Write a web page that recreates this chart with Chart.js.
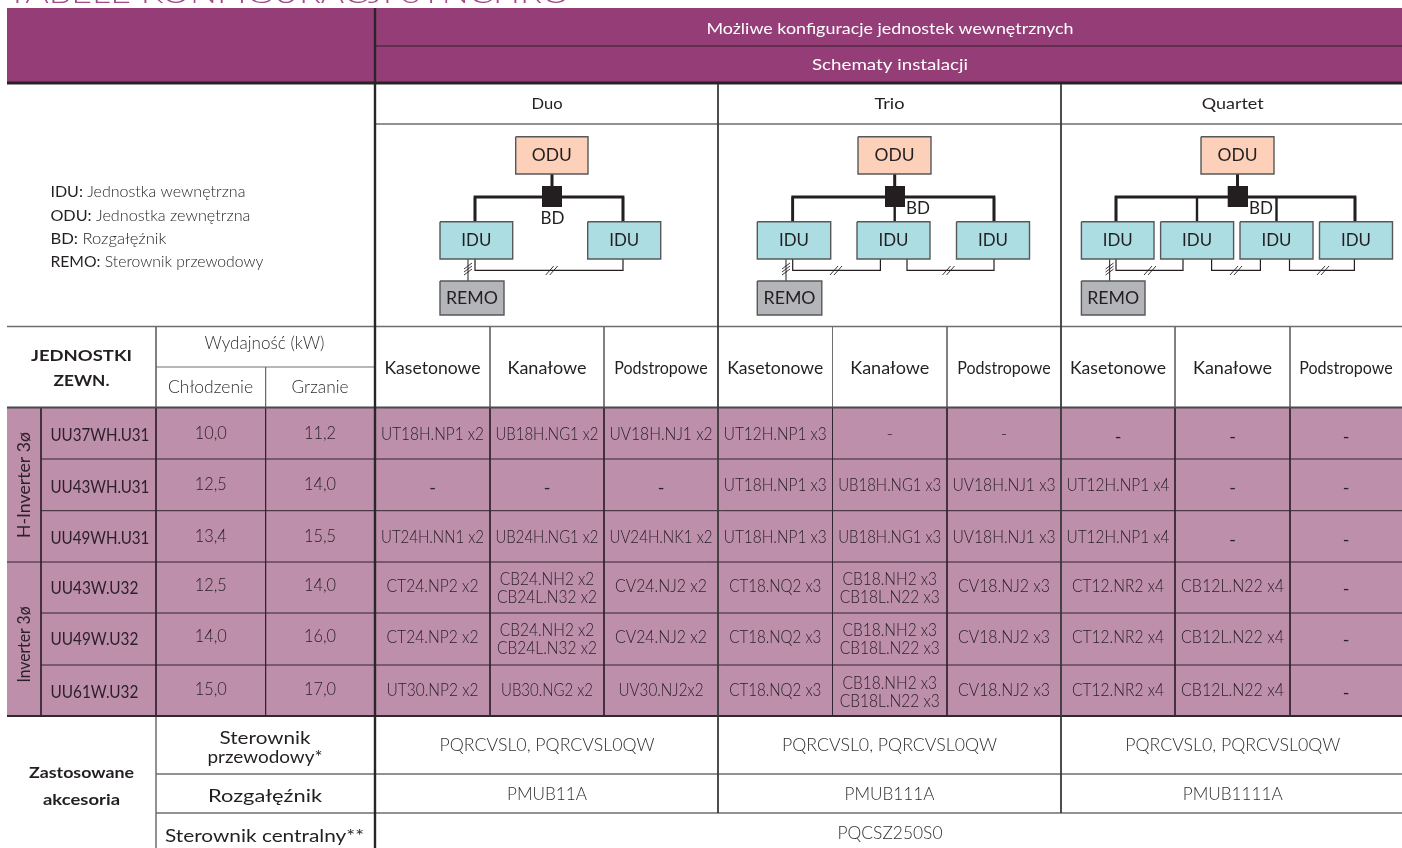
<!DOCTYPE html>
<html lang="pl">
<head>
<meta charset="utf-8">
<title>Tabele konfiguracji Synchro</title>
<style>
	html, body { margin: 0; padding: 0; background: #fff; }
	canvas { display: block; }
</style>
<script src="https://cdn.jsdelivr.net/npm/chart.js@4"></script>
</head>
<body>
<canvas id="config-table" width="1402" height="848"></canvas>
<script>
( function() { 'use strict';

	// table content
	let pageTitle = 'TABELE KONFIGURACJI SYNCHRO';
	let headerLabels = [ 'Możliwe konfiguracje jednostek wewnętrznych', 'Schematy instalacji' ];
	let schemeNames = [ 'Duo', 'Trio', 'Quartet' ];
	let indoorTypes = [ 'Kasetonowe', 'Kanałowe', 'Podstropowe' ];
	let legendKeys = [ 'IDU:', 'ODU:', 'BD:', 'REMO:' ];
	let legendTexts = [ 'Jednostka wewnętrzna', 'Jednostka zewnętrzna', 'Rozgałęźnik', 'Sterownik przewodowy' ];

	let unitNames = [ 'UU37WH.U31', 'UU43WH.U31', 'UU49WH.U31', 'UU43W.U32', 'UU49W.U32', 'UU61W.U32' ];
	let coolingKw = [ 10.0, 12.5, 13.4, 12.5, 14.0, 15.0 ];
	let heatingKw = [ 11.2, 14.0, 15.5, 14.0, 16.0, 17.0 ];

	let duoCassette = [ 'UT18H.NP1 x2', '-', 'UT24H.NN1 x2', 'CT24.NP2 x2', 'CT24.NP2 x2', 'UT30.NP2 x2' ];
	let duoDuct = [ 'UB18H.NG1 x2', '-', 'UB24H.NG1 x2', 'CB24.NH2 x2|CB24L.N32 x2', 'CB24.NH2 x2|CB24L.N32 x2', 'UB30.NG2 x2' ];
	let duoCeiling = [ 'UV18H.NJ1 x2', '-', 'UV24H.NK1 x2', 'CV24.NJ2 x2', 'CV24.NJ2 x2', 'UV30.NJ2x2' ];
	let trioCassette = [ 'UT12H.NP1 x3', 'UT18H.NP1 x3', 'UT18H.NP1 x3', 'CT18.NQ2 x3', 'CT18.NQ2 x3', 'CT18.NQ2 x3' ];
	let trioDuct = [ '-', 'UB18H.NG1 x3', 'UB18H.NG1 x3', 'CB18.NH2 x3|CB18L.N22 x3', 'CB18.NH2 x3|CB18L.N22 x3', 'CB18.NH2 x3|CB18L.N22 x3' ];
	let trioCeiling = [ '-', 'UV18H.NJ1 x3', 'UV18H.NJ1 x3', 'CV18.NJ2 x3', 'CV18.NJ2 x3', 'CV18.NJ2 x3' ];
	let quartetCassette = [ '-', 'UT12H.NP1 x4', 'UT12H.NP1 x4', 'CT12.NR2 x4', 'CT12.NR2 x4', 'CT12.NR2 x4' ];
	let quartetDuct = [ '-', '-', '-', 'CB12L.N22 x4', 'CB12L.N22 x4', 'CB12L.N22 x4' ];
	let quartetCeiling = [ '-', '-', '-', '-', '-', '-' ];

	let wiredRemote = [ 'PQRCVSL0, PQRCVSL0QW', 'PQRCVSL0, PQRCVSL0QW', 'PQRCVSL0, PQRCVSL0QW' ];
	let branchBoxes = [ 'PMUB11A', 'PMUB111A', 'PMUB1111A' ];
	let centralRemote = 'PQCSZ250S0';

	// layout, in scale units
	let modelCols = [ 375, 490, 604, 718, 832.5, 947, 1061, 1175, 1290, 1402 ];
	let schemeCentres = [ 547, 889.5, 1232.7 ];

	let diagrams = [
		{ odu: [ 515.7, 588 ], bd: [ 542, 562 ], bdLabel: [ 552.5, 218 ], bus: [ 475, 623 ], drops: [ 475, 623 ], stem: 552,
			idus: [ [ 440, 512.7 ], [ 587.7, 660.7 ] ], remo: [ 440, 504 ], remoLine: 468,
			links: [ [ 475, 623 ] ], marks: [ 551.7 ] },
		{ odu: [ 858, 931 ], bd: [ 885, 905 ], bdLabel: [ 918, 208 ], bus: [ 792.7, 994 ], drops: [ 792.7, 894.7, 994 ], stem: 894.7,
			idus: [ [ 757.3, 830.7 ], [ 857, 930 ], [ 956.5, 1029.5 ] ], remo: [ 757.3, 821.8 ], remoLine: 786,
			links: [ [ 792.7, 880.4 ], [ 907, 994 ] ], marks: [ 836, 948.5 ] },
		{ odu: [ 1201, 1274 ], bd: [ 1227.7, 1248 ], bdLabel: [ 1261, 208 ], bus: [ 1116, 1355 ], drops: [ 1116, 1197, 1276.5, 1355 ], stem: 1237.5,
			idus: [ [ 1081.4, 1154 ], [ 1160.6, 1233.6 ], [ 1240, 1313 ], [ 1319.5, 1392.5 ] ], remo: [ 1081.4, 1145 ], remoLine: 1109.6,
			links: [ [ 1116, 1183 ], [ 1211.6, 1260.4 ], [ 1289.5, 1354.4 ] ], marks: [ 1150, 1236, 1323 ] }
	];

	let colors = {
		header: '#953d77', body: '#bd8fab', ink: '#231f20', cellInk: '#2c2029', soft: '#2f2f2f',
		gridWhite: '#6e6e6e', gridDark: '#33252f', odu: '#fdd0b9', idu: '#acdde3', remo: '#b4b5b9', boxEdge: '#55585a', title: '#a04a84'
	};

	let ConfigTable = {

		datasets: [],
		labels: [],

		/**
		 * Build the marks and open the chart
		 */
		init: function() {
			this.addFills();
			this.addGrid();
			diagrams.forEach( function( item ) { this.addDiagram( item ); }, this );
			this.addLabels();
			this.createChart();
		},

		/**
		 * Polyline through the chart scales
		 */
		wire: function( points, color, width ) {
			this.datasets.push( {
				data: points.map( function( p ) { return { x: p[0], y: p[1] }; } ),
				showLine: true, fill: false, tension: 0, pointRadius: 0, clip: false,
				borderColor: color, borderWidth: width, borderCapStyle: 'butt', borderJoinStyle: 'miter',
				order: -this.datasets.length
			} );
		},

		/**
		 * Closed filled rectangle through the chart scales
		 */
		box: function( x0, y0, x1, y1, fill, edge, width ) {
			this.datasets.push( {
				data: [ { x: x0, y: y0 }, { x: x1, y: y0 }, { x: x1, y: y1 }, { x: x0, y: y1 }, { x: x0, y: y0 } ],
				showLine: true, fill: 'shape', backgroundColor: fill, tension: 0, pointRadius: 0, clip: false,
				borderColor: edge, borderWidth: width, borderJoinStyle: 'miter',
				order: -this.datasets.length
			} );
		},

		addFills: function() {
			this.box( 7, 8, 1402, 84, colors.header, colors.header, 0 );
			this.box( 7, 407.5, 1402, 716, colors.body, colors.body, 0 );
		},

		addGrid: function() {
			let self = this;
			let h = function( y, x0, x1, color, width ) { self.wire( [ [ x0, y ], [ x1, y ] ], color, width ); };
			let v = function( x, y0, y1, color, width ) { self.wire( [ [ x, y0 ], [ x, y1 ] ], color, width ); };

			// white parts of the table
			h( 124, 375, 1402, colors.gridWhite, 1.5 );
			h( 326.5, 7, 1402, colors.gridWhite, 1.5 );
			h( 367, 156, 375, colors.gridWhite, 1 );
			h( 774, 156, 1402, colors.gridWhite, 1.5 );
			h( 813, 156, 1402, colors.gridWhite, 1.5 );
			v( 156, 326.5, 407.5, colors.gridWhite, 1 );
			v( 156, 716, 848, colors.gridWhite, 1.5 );
			v( 265.6, 367, 407.5, colors.gridWhite, 1 );
			[ 490, 604, 832.5, 947, 1175, 1290 ].forEach( function( x ) { v( x, 326.5, 407.5, colors.gridWhite, 1 ); } );

			// purple rows
			[ 459, 510.7, 613, 665 ].forEach( function( y ) { h( y, 41, 1402, colors.gridDark, 1 ); } );
			h( 562, 7, 1402, colors.gridDark, 1 );
			v( 41, 407.5, 716, colors.gridDark, 1 );
			v( 156, 407.5, 716, colors.gridDark, 1 );
			v( 265.6, 407.5, 716, colors.gridDark, 1 );
			[ 490, 604, 832.5, 947, 1175, 1290 ].forEach( function( x ) { v( x, 407.5, 716, colors.gridDark, 1 ); } );

			// heavy rules
			h( 46, 375, 1402, '#33202d', 1.2 );
			h( 83, 7, 1402, '#2a2228', 3 );
			h( 407.5, 7, 1402, '#4a4a4a', 2.2 );
			h( 716, 7, 1402, '#2f2a2e', 2.2 );
			v( 718, 84, 813, '#3a3a3a', 1.8 );
			v( 1061, 84, 813, '#3a3a3a', 1.8 );
			v( 375, 8, 848, '#2a2628', 2.4 );
		},

		/**
		 * One installation scheme: ODU, BD, IDU row, REMO and signal links
		 */
		addDiagram: function( item ) {
			let self = this;
			let ink = colors.ink;

			this.wire( [ [ item.stem, 174 ], [ item.stem, 190 ] ], ink, 3 );
			this.wire( [ [ item.bus[0], 221 ], [ item.bus[0], 197 ], [ item.bus[1], 197 ], [ item.bus[1], 221 ] ], ink, 2.8 );
			item.drops.forEach( function( x ) { self.wire( [ [ x, 197 ], [ x, 221 ] ], ink, 2.4 ); } );
			this.wire( [ [ item.remoLine, 259 ], [ item.remoLine, 281 ] ], '#444', 1.2 );
			item.links.forEach( function( link ) {
				self.wire( [ [ link[0], 259 ], [ link[0], 270.3 ], [ link[1], 270.3 ], [ link[1], 259 ] ], ink, 1.2 );
			} );

			// cable marks
			[ -3, 0, 3 ].forEach( function( dy ) {
				self.wire( [ [ item.remoLine - 4, 272 + dy ], [ item.remoLine + 4, 266 + dy ] ], ink, 0.9 );
			} );
			item.marks.forEach( function( x ) {
				[ -2, 2 ].forEach( function( dx ) {
					self.wire( [ [ x - 4 + dx, 275 ], [ x + 4 + dx, 266 ] ], ink, 0.9 );
				} );
			} );

			this.box( item.odu[0], 136.7, item.odu[1], 174, colors.odu, colors.boxEdge, 1.4 );
			item.idus.forEach( function( idu ) { self.box( idu[0], 221.7, idu[1], 259, colors.idu, colors.boxEdge, 1.4 ); } );
			this.box( item.remo[0], 281, item.remo[1], 315, colors.remo, colors.boxEdge, 1.4 );
			this.box( item.bd[0], 186, item.bd[1], 207, ink, ink, 0 );

			let diagramFont = '400 18px Lato';
			this.text( 'ODU', ( item.odu[0] + item.odu[1] ) / 2, 155.5, { font: diagramFont, color: ink, w: 40 } );
			item.idus.forEach( function( idu ) {
				self.text( 'IDU', ( idu[0] + idu[1] ) / 2, 240.5, { font: diagramFont, color: ink, w: 30 } );
			} );
			this.text( 'REMO', ( item.remo[0] + item.remo[1] ) / 2, 298.5, { font: diagramFont, color: ink, w: 52 } );
			this.text( 'BD', item.bdLabel[0], item.bdLabel[1], { font: diagramFont, color: ink, w: 24 } );
		},

		/**
		 * Queue a label, cx and cy are in scale units
		 */
		text: function( str, cx, cy, opts ) {
			this.labels.push( Object.assign( { str: str, x: cx, y: cy, align: 'center', angle: 0 }, opts ) );
		},

		formatKw: function( value ) {
			return value.toFixed( 1 ).replace( '.', ',' );
		},

		addLabels: function() {
			let self = this;
			let ink = colors.ink;
			let soft = colors.soft;
			let cell = colors.cellInk;
			let headFont = '400 16px Lato';
			let typeFont = '400 17px Lato';
			let thinFont = '300 17px Lato';
			let modelFont = '300 18px Lato';
			let boldFont = '700 16px Lato';
			let sideFont = '400 18px Lato';

			this.text( pageTitle, 7, -6.5, { font: '300 30px Lato', color: colors.title, align: 'left', w: 563 } );

			this.text( headerLabels[0], 890, 28.7, { font: headFont, color: '#fff', w: 367 } );
			this.text( headerLabels[1], 890, 65, { font: headFont, color: '#fff', w: 156 } );

			let schemeWidths = [ 31, 30, 62 ];
			schemeNames.forEach( function( name, i ) {
				self.text( name, schemeCentres[i], 104, { font: headFont, color: ink, w: schemeWidths[i] } );
			} );

			let legendY = [ 191.7, 216, 238.7, 262.3 ];
			let legendW = [ 195, 200, 116, 213 ];
			legendKeys.forEach( function( key, i ) {
				self.labels.push( { pair: [ key, ' ' + legendTexts[i] ], x: 50.4, y: legendY[i], w: legendW[i],
					font: '400 16px Lato', thin: '300 16px Lato', color: ink, align: 'left', angle: 0 } );
			} );

			this.text( 'JEDNOSTKI', 81.5, 356, { font: boldFont, color: ink, w: 101 } );
			this.text( 'ZEWN.', 81.5, 381, { font: boldFont, color: ink, w: 56 } );
			this.text( 'Wydajność (kW)', 264.5, 344, { font: thinFont, color: soft, w: 120 } );
			this.text( 'Chłodzenie', 210.5, 388, { font: thinFont, color: soft, w: 85 } );
			this.text( 'Grzanie', 320, 388, { font: thinFont, color: soft, w: 57 } );

			let typeWidths = [ 96, 79, 93.5 ];
			for ( let c = 0; c < 9; c++ ) {
				this.text( indoorTypes[ c % 3 ], ( modelCols[c] + modelCols[ c + 1 ] ) / 2, 369, { font: typeFont, color: ink, w: typeWidths[ c % 3 ] } );
			}

			this.text( 'H-Inverter 3ø', 25, 485, { font: '400 17px Lato', color: cell, angle: -90, w: 106 } );
			this.text( 'Inverter 3ø', 25, 644.5, { font: '400 17px Lato', color: cell, angle: -90, w: 76 } );

			let rowY = [ 433.7, 485, 536.7, 586, 637, 690 ];
			let columns = [ duoCassette, duoDuct, duoCeiling, trioCassette, trioDuct, trioCeiling, quartetCassette, quartetDuct, quartetCeiling ];
			let singleWidths = { 12: 103, 11: 92, 10: 85 };

			unitNames.forEach( function( name, r ) {
				self.text( name, 50.4, rowY[r] + 2, { font: '400 17.5px Lato', color: cell, align: 'left', w: r < 3 ? 99 : 88 } );
				self.text( self.formatKw( coolingKw[r] ), 210.7, rowY[r], { font: thinFont, color: cell, w: 32 } );
				self.text( self.formatKw( heatingKw[r] ), 320, rowY[r], { font: thinFont, color: cell, w: 32 } );

				columns.forEach( function( col, c ) {
					let cx = ( modelCols[c] + modelCols[ c + 1 ] ) / 2;
					let parts = col[r].split( '|' );
					if ( col[r] === '-' ) {
						let faint = r === 0 && c < 6;
						self.text( '-', cx, faint ? rowY[r] : rowY[r] + 3, { font: faint ? modelFont : '400 18px Lato', color: cell } );
					} else if ( parts.length === 2 ) {
						self.text( parts[0], cx, rowY[r] - 7, { font: modelFont, color: cell, w: 94.6 } );
						self.text( parts[1], cx, rowY[r] + 11, { font: modelFont, color: cell, w: 100 } );
					} else {
						self.text( parts[0], cx, rowY[r], { font: modelFont, color: cell, w: singleWidths[ parts[0].length ] } );
					}
				} );
			} );

			this.text( 'Zastosowane', 81.5, 773, { font: boldFont, color: ink, w: 105 } );
			this.text( 'akcesoria', 81.5, 800, { font: boldFont, color: ink, w: 77 } );
			this.text( 'Sterownik', 265, 738, { font: sideFont, color: ink, w: 91 } );
			this.text( 'przewodowy*', 265, 757, { font: sideFont, color: ink, w: 115 } );
			this.text( 'Rozgałęźnik', 265, 796, { font: sideFont, color: ink, w: 114 } );
			this.text( 'Sterownik centralny**', 264.5, 836, { font: sideFont, color: ink, w: 199 } );

			schemeCentres.forEach( function( cx, i ) {
				self.text( wiredRemote[i], cx, 745.7, { font: thinFont, color: soft, w: 215 } );
				self.text( branchBoxes[i], cx, 795, { font: thinFont, color: soft, w: 80 + i * 10 } );
			} );
			this.text( centralRemote, 890, 834, { font: thinFont, color: soft, w: 105 } );
		},

		/**
		 * Draw the queued labels after the marks, positions go through the scales
		 */
		labelPlugin: function() {
			let labels = this.labels;
			return {
				id: 'tableLabels',
				afterDatasetsDraw: function( chart ) {
					let ctx = chart.ctx;
					labels.forEach( function( item ) {
						let px = chart.scales.x.getPixelForValue( item.x );
						let py = chart.scales.y.getPixelForValue( item.y );
						ctx.save();
						ctx.translate( px, py );
						if ( item.angle ) {
							ctx.rotate( item.angle * Math.PI / 180 );
						}
						ctx.fillStyle = item.color;
						ctx.textBaseline = 'middle';
						if ( item.pair ) {
							ctx.font = item.font;
							let first = ctx.measureText( item.pair[0] ).width;
							ctx.font = item.thin;
							let second = ctx.measureText( item.pair[1] ).width;
							ctx.scale( item.w / ( first + second ), 1 );
							ctx.textAlign = 'left';
							ctx.font = item.font;
							ctx.fillText( item.pair[0], 0, 0 );
							ctx.font = item.thin;
							ctx.fillText( item.pair[1], first, 0 );
						} else {
							ctx.font = item.font;
							ctx.textAlign = item.align;
							if ( item.w ) {
								ctx.scale( item.w / ctx.measureText( item.str ).width, 1 );
							}
							ctx.fillText( item.str, 0, 0 );
						}
						ctx.restore();
					} );
				}
			};
		},

		createChart: function() {
			new Chart( document.getElementById( 'config-table' ), {
				type: 'scatter',
				data: { datasets: this.datasets },
				plugins: [ this.labelPlugin() ],
				options: {
					responsive: false,
					animation: false,
					events: [],
					layout: { padding: 0 },
					plugins: { legend: { display: false }, tooltip: { enabled: false }, title: { display: false } },
					scales: {
						x: { type: 'linear', min: 0, max: 1402, display: false },
						y: { type: 'linear', min: 0, max: 848, reverse: true, display: false }
					}
				}
			} );
		}
	};

	ConfigTable.init();
})();
</script>
</body>
</html>
